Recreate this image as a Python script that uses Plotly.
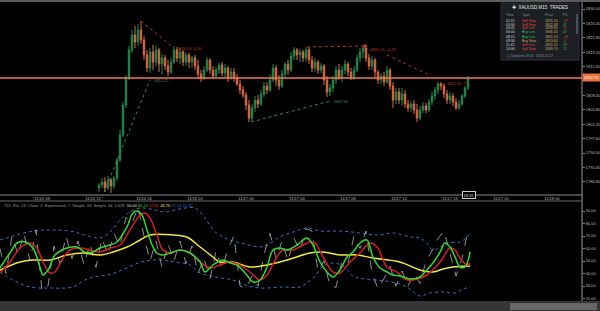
import plotly.graph_objects as go

W, H = 600, 311
def fx(p): return p / W
def fy(p): return 1 - p / H

# ---------------- price data (15-min candles, index = bar number) ----------------
candle_idx = list(range(33, 157))
opens = [1785.25, 1786.00, 1786.75, 1785.25, 1787.25, 1785.75, 1787.75, 1792.25, 1798.50, 1806.00,
         1812.75, 1819.75, 1823.50, 1821.75, 1824.75, 1822.25, 1818.50, 1815.25, 1819.25, 1816.75,
         1819.75, 1816.25, 1817.75, 1815.75, 1814.25, 1816.75, 1819.75, 1817.75, 1819.25, 1816.75,
         1818.50, 1816.75, 1817.75, 1815.75, 1813.75, 1812.75, 1814.75, 1817.25, 1814.75, 1813.25,
         1814.75, 1816.00, 1814.00, 1815.25, 1812.75, 1814.25, 1812.75, 1811.25, 1809.75, 1808.50,
         1806.00, 1802.75, 1805.25, 1807.25, 1806.25, 1808.75, 1810.75, 1809.75, 1812.25, 1815.25,
         1812.25, 1810.75, 1813.75, 1816.25, 1814.75, 1818.25, 1819.75, 1818.50, 1819.25, 1817.75,
         1819.75, 1817.25, 1815.25, 1816.75, 1814.75, 1815.75, 1812.25, 1809.25, 1810.25, 1812.25,
         1814.75, 1812.75, 1814.75, 1816.25, 1814.25, 1812.75, 1814.75, 1817.75, 1819.25, 1820.25,
         1817.75, 1815.75, 1817.25, 1814.25, 1812.25, 1813.25, 1811.75, 1814.75, 1810.75, 1807.25,
         1809.25, 1807.25, 1808.75, 1806.25, 1805.25, 1806.25, 1804.75, 1802.75, 1804.75, 1805.75,
         1804.75, 1806.75, 1808.25, 1809.75, 1811.25, 1810.75, 1808.75, 1807.25, 1808.25, 1806.75,
         1805.25, 1806.25, 1808.25, 1810.25]
highs = [1786.50, 1787.75, 1788.00, 1788.25, 1787.75, 1788.25, 1792.75, 1799.75, 1806.75, 1813.50,
         1820.75, 1824.75, 1825.75, 1826.25, 1827.00, 1823.25, 1819.75, 1820.25, 1821.00, 1820.75,
         1820.25, 1818.75, 1818.50, 1817.25, 1817.75, 1820.75, 1820.50, 1820.25, 1819.75, 1819.25,
         1819.00, 1818.25, 1818.50, 1817.25, 1814.75, 1815.75, 1818.00, 1817.75, 1815.75, 1815.50,
         1816.50, 1816.75, 1816.25, 1815.75, 1815.25, 1815.25, 1813.75, 1812.25, 1810.75, 1809.25,
         1807.25, 1806.25, 1808.25, 1808.50, 1809.75, 1811.75, 1811.75, 1813.75, 1816.25, 1816.00,
         1813.50, 1814.75, 1816.75, 1817.25, 1819.25, 1820.50, 1820.25, 1820.00, 1819.75, 1820.50,
         1820.50, 1818.25, 1817.75, 1817.25, 1816.50, 1816.25, 1813.25, 1811.25, 1813.25, 1815.75,
         1816.25, 1815.75, 1817.25, 1816.75, 1815.25, 1815.75, 1818.50, 1820.25, 1820.75, 1821.00,
         1818.75, 1818.25, 1817.75, 1814.75, 1814.00, 1814.25, 1815.75, 1815.25, 1811.75, 1810.25,
         1810.25, 1810.25, 1809.75, 1807.25, 1807.00, 1807.25, 1806.25, 1805.75, 1806.75, 1806.50,
         1807.50, 1809.25, 1810.50, 1811.75, 1811.75, 1811.50, 1809.75, 1809.25, 1809.00, 1807.75,
         1807.25, 1808.75, 1810.75, 1813.25]
lows = [1784.25, 1785.25, 1784.25, 1784.75, 1784.00, 1785.00, 1787.00, 1791.75, 1798.00, 1805.25,
        1812.25, 1819.00, 1820.25, 1820.75, 1821.25, 1817.25, 1814.25, 1814.00, 1814.75, 1815.75,
        1814.25, 1813.50, 1814.75, 1813.25, 1813.75, 1816.25, 1816.75, 1816.25, 1815.75, 1815.75,
        1815.25, 1815.25, 1814.75, 1812.75, 1811.75, 1812.25, 1814.25, 1813.75, 1812.50, 1812.75,
        1813.75, 1813.25, 1812.75, 1811.75, 1812.25, 1811.75, 1810.75, 1808.75, 1807.75, 1804.75,
        1801.75, 1802.00, 1804.25, 1805.25, 1805.75, 1808.00, 1808.75, 1809.25, 1811.75, 1810.75,
        1809.75, 1810.25, 1812.75, 1813.50, 1814.25, 1817.25, 1817.25, 1816.75, 1816.75, 1816.75,
        1816.25, 1814.25, 1814.25, 1813.75, 1814.00, 1811.00, 1808.00, 1808.25, 1809.25, 1811.25,
        1812.25, 1811.75, 1813.75, 1813.25, 1812.25, 1812.25, 1814.25, 1816.75, 1817.75, 1816.75,
        1814.75, 1814.75, 1812.75, 1811.25, 1811.25, 1810.75, 1811.25, 1809.75, 1805.25, 1806.25,
        1806.25, 1805.75, 1805.25, 1804.25, 1804.25, 1803.75, 1801.75, 1802.25, 1804.00, 1804.00,
        1804.25, 1806.00, 1807.25, 1808.75, 1809.75, 1807.75, 1806.25, 1806.25, 1805.75, 1804.75,
        1804.75, 1805.75, 1807.75, 1809.75]
closes = [1786.00, 1786.75, 1785.25, 1787.25, 1785.75, 1787.75, 1792.25, 1798.50, 1806.00, 1812.75,
          1819.75, 1823.50, 1821.75, 1824.75, 1822.25, 1818.50, 1815.25, 1819.25, 1816.75, 1819.75,
          1816.25, 1817.75, 1815.75, 1814.25, 1816.75, 1819.75, 1817.75, 1819.25, 1816.75, 1818.50,
          1816.75, 1817.75, 1815.75, 1813.75, 1812.75, 1814.75, 1817.25, 1814.75, 1813.25, 1814.75,
          1816.00, 1814.00, 1815.25, 1812.75, 1814.25, 1812.75, 1811.25, 1809.75, 1808.50, 1806.00,
          1802.75, 1805.25, 1807.25, 1806.25, 1808.75, 1810.75, 1809.75, 1812.25, 1815.25, 1812.25,
          1810.75, 1813.75, 1816.25, 1814.75, 1818.25, 1819.75, 1818.50, 1819.25, 1817.75, 1819.75,
          1817.25, 1815.25, 1816.75, 1814.75, 1815.75, 1812.25, 1809.25, 1810.25, 1812.25, 1814.75,
          1812.75, 1814.75, 1816.25, 1814.25, 1812.75, 1814.75, 1817.75, 1819.25, 1820.25, 1817.75,
          1815.75, 1817.25, 1814.25, 1812.25, 1813.25, 1811.75, 1814.75, 1810.75, 1807.25, 1809.25,
          1807.25, 1808.75, 1806.25, 1805.25, 1806.25, 1804.75, 1802.75, 1804.75, 1805.75, 1804.75,
          1806.75, 1808.25, 1809.75, 1811.25, 1810.75, 1808.75, 1807.25, 1808.25, 1806.75, 1805.25,
          1806.25, 1808.25, 1810.25, 1812.75]

# the 1812.00 level sits under the current-price tag, so it is not labelled
price_ticks = [1830.0, 1826.4, 1822.8, 1819.2, 1815.6, 1808.4, 1804.8,
               1801.2, 1797.6, 1794.0, 1790.4, 1786.8]
time_tick_idx = [14, 31, 48, 65, 82, 99, 116, 133, 150, 167, 184]
time_tick_text = ["11/16 08", "11/16 12", "11/16 16", "11/16 20", "11/17 00", "11/17 04",
                  "11/17 08", "11/17 12", "11/17 16", "11/17 20", "11/18 00"]

# zigzag pivots (bar index, price)
zz_red1_x, zz_red1_y = [47, 57.5], [1827.00, 1820.50]
zz_grn1_x, zz_grn1_y = [34.7, 50], [1784.25, 1812.25]
zz_grn2_x, zz_grn2_y = [83.7, 110], [1801.75, 1807.00]
zz_red2_x, zz_red2_y = [102.3, 121.7], [1820.50, 1820.75]
zz_red3_x, zz_red3_y = [129, 143], [1818.50, 1813.50]

# ---------------- TDI indicator data ----------------
tdi_ticks = [90, 80, 70, 60, 50, 40, 30, 20]
gray_x = list(range(0, 157, 2))
gray_v = [60, 40, 70, 55, 72, 50, 75, 26, 30, 62,
          48, 70, 52, 66, 47, 64, 45, 68, 55, 72,
          62, 85, 80, 93, 70, 50, 66, 45, 64, 50,
          66, 48, 62, 40, 52, 36, 58, 44, 60, 70,
          30, 28, 38, 30, 55, 72, 52, 66, 50, 68,
          58, 76, 74, 42, 50, 30, 29, 50, 48, 70,
          60, 74, 40, 28, 36, 46, 30, 42, 30, 40,
          32, 50, 58, 68, 74, 56, 38, 52, 74]
green_x = [0, 3.3, 5.7, 8.3, 11, 13.3, 14.3, 16, 18.3, 20.7, 22.3, 25.7, 28.3, 31, 33.3,
           36.7, 39, 42.3, 44.3, 45.7, 47.3, 49, 50.7, 52.3, 54.3, 57.7, 60, 63.3, 66.7, 68.3,
           71, 74.3, 76.7, 79, 82.3, 84.3, 86.7, 89, 91, 93.3, 95.7, 99, 102.3, 104.3, 106.7,
           109, 111, 113.3, 115.7, 117.7, 120, 122.3, 124.3, 126.7, 129, 131, 133.3, 136.7, 140,
           142.3, 144.3, 146.7, 148.3, 150, 151.7, 153.3, 155, 156.7]
green_v = [44.4, 56.4, 64.4, 65.2, 60.4, 45.2, 38.8, 42.8, 54.8, 58.8, 60.4, 61.2, 57.2, 57.2, 60.4,
           62.8, 65.2, 77.2, 88.4, 90.0, 86.8, 74.8, 62.8, 56.4, 54.8, 57.2, 58.8, 56.4, 49.2, 41.2,
           46.8, 50.8, 48.4, 46.8, 38.8, 33.2, 34.8, 45.2, 58.8, 60.4, 58.8, 62.8, 68.4, 62.8, 49.2,
           41.2, 37.2, 42.8, 53.2, 57.2, 64.4, 66.8, 53.2, 44.4, 41.2, 38.8, 38.0, 35.6, 37.2,
           42.8, 48.4, 57.2, 64.4, 61.2, 53.2, 45.2, 45.2, 57.2]
red_x = [0, 3.3, 6.7, 10, 12.3, 14.3, 16.7, 18.3, 20.7, 23.3, 26.7, 30, 33.3, 36.7, 40,
         43.3, 46.7, 48.3, 50, 52.3, 54.3, 56.7, 60, 63.3, 66.7, 70, 73.3, 76.7, 80, 83.3,
         86.7, 89, 91.7, 94.3, 97.7, 101, 103.3, 105, 107.7, 111, 113.3, 116.7, 120, 123.3, 125.7,
         129, 132.3, 135, 137.7, 142.3, 146.7, 150, 151.7, 153.3, 155.7, 156.7]
red_v = [40.4, 49.2, 60.4, 64.4, 60.4, 49.2, 40.4, 41.2, 50.8, 58.8, 60.4, 58.8, 57.2, 60.4, 62.8,
         74.8, 86.8, 88.4, 84.4, 70.8, 58.8, 56.4, 58.8, 56.4, 49.2, 44.4, 46.8, 49.2, 46.8, 41.2,
         34.8, 38.8, 50.8, 58.8, 58.8, 62.8, 65.2, 64.4, 53.2, 41.2, 40.4, 49.2, 56.4, 64.4, 61.2,
         45.2, 41.2, 35.6, 34.8, 38.8, 49.2, 60.4, 58.8, 52.4, 46.8, 48.4]
yellow_x = [0, 6.7, 11, 16.7, 22.3, 27.7, 33.3, 37.7, 42.3, 46.7, 50, 57.7, 62.3, 66.7, 71,
            73.3, 77.7, 83.3, 89, 95.7, 103.3, 107.7, 113.3, 119, 124.3, 133.3, 140, 144.3,
            147.7, 151, 156.7]
yellow_v = [42.8, 49.2, 50.8, 50.8, 54.8, 56.4, 54.8, 57.2, 61.2, 66.8, 70.8, 70.8, 69.2, 61.2, 53.2,
            49.2, 49.2, 45.2, 46.8, 50.8, 56.4, 57.2, 54.8, 54.8, 52.4, 49.2, 42.8, 41.2,
            43.6, 45.2, 46.0]
upper_x = [0, 4.3, 11, 16.7, 23.3, 28.3, 33.3, 36.7, 40, 43.3, 46.7, 51.7, 55, 60, 65,
           68.3, 71.7, 76.7, 81.7, 86.7, 89, 93.3, 97.7, 102.3, 106.7, 113.3, 120, 125.7, 131,
           136.7, 140, 142.3, 144.3, 146.7, 149, 153.3, 155.7, 156.7]
upper_v = [66.8, 70.0, 74.0, 74.8, 74.0, 70.8, 68.4, 73.2, 82.8, 89.2, 92.4, 90.8, 89.2, 91.6, 92.4,
           84.4, 73.2, 66.8, 63.6, 61.2, 62.8, 69.2, 73.2, 76.4, 74.0, 74.0, 72.4, 70.8, 72.4,
           69.2, 68.4, 64.4, 58.8, 61.2, 64.4, 65.2, 69.2, 73.2]
lower_x = [0, 4.3, 10, 16.7, 24.3, 27.7, 31, 35.7, 40, 44.3, 48.3, 53.3, 58.3, 63.3, 66.7,
           71.7, 77.7, 81.7, 86.7, 94.3, 100, 102.3, 105, 107.7, 111, 114.3, 117.7, 121.7, 128.3,
           133.3, 136.7, 140, 143.3, 147.7, 151.7, 154.3, 156.7]
lower_v = [41.2, 34.8, 29.2, 28.4, 29.2, 34.0, 37.2, 38.8, 42.0, 46.8, 50.0, 50.8, 49.2, 46.8, 40.4,
           37.2, 34.8, 30.8, 28.4, 29.2, 29.2, 32.4, 38.0, 46.0, 48.4, 46.0, 38.0, 35.6, 34.0,
           31.6, 27.6, 22.0, 24.4, 25.2, 24.4, 27.6, 29.2]

# ---------------- styling ----------------
GREEN = "#23874f"
RED = "#dc6a45"
AXC = "#b8b8b8"
FONT = "Liberation Sans"

fig = go.Figure()
fig.add_trace(go.Candlestick(
    x=candle_idx, open=opens, high=highs, low=lows, close=closes,
    increasing=dict(line=dict(color=GREEN, width=1), fillcolor=GREEN),
    decreasing=dict(line=dict(color=RED, width=1), fillcolor=RED),
    whiskerwidth=0, xaxis="x", yaxis="y", hoverinfo="skip"))

for zx, zy, col in [(zz_red1_x, zz_red1_y, "#b83226"), (zz_grn1_x, zz_grn1_y, "#2e8b57"),
                    (zz_grn2_x, zz_grn2_y, "#2e8b57"), (zz_red2_x, zz_red2_y, "#b83226"),
                    (zz_red3_x, zz_red3_y, "#b83226")]:
    fig.add_trace(go.Scatter(x=zx, y=zy, mode="lines", xaxis="x", yaxis="y",
                             line=dict(color=col, width=1, dash="dot"), hoverinfo="skip"))
fig.add_trace(go.Scatter(x=[zz_red2_x[1]], y=[zz_red2_y[1]], mode="markers", xaxis="x", yaxis="y",
                         marker=dict(color="#d03a2a", size=3, symbol="square"), hoverinfo="skip"))

def tdi_line(x, v, color, width, dash="solid", shape="spline"):
    fig.add_trace(go.Scatter(x=x, y=v, mode="lines", xaxis="x2", yaxis="y2",
                             line=dict(color=color, width=width, dash=dash, shape=shape),
                             hoverinfo="skip"))

tdi_line(upper_x, upper_v, "#3b6fc9", 1, "dot")
tdi_line(lower_x, lower_v, "#3b6fc9", 1, "dot")
tdi_line(gray_x, gray_v, "#b4b4b4", 0.8, "dash", "linear")
tdi_line(yellow_x, yellow_v, "#f2e640", 1.5)
tdi_line(red_x, red_v, "#d42020", 1.5)
tdi_line(green_x, green_v, "#34d834", 1.5)

X_END = fx(582)
fig.update_layout(
    width=W, height=H, margin=dict(l=0, r=0, t=0, b=0),
    paper_bgcolor="black", plot_bgcolor="black", showlegend=False, hovermode=False,
    font=dict(family=FONT, size=4, color=AXC),
    xaxis=dict(domain=[0, X_END], range=[0, 194], anchor="y", showgrid=False, zeroline=False,
               tickvals=time_tick_idx, ticktext=time_tick_text, ticks="",
               tickfont=dict(size=4, color=AXC), rangeslider=dict(visible=False), fixedrange=True),
    yaxis=dict(domain=[fy(195), fy(1)], range=[1783.5, 1832.0], side="right", anchor="x",
               showgrid=False, zeroline=False, tickvals=price_ticks, tickformat=".2f",
               ticks="outside", ticklen=2, tickcolor="#888888", tickfont=dict(size=4, color=AXC)),
    xaxis2=dict(domain=[0, X_END], range=[0, 194], anchor="y2", visible=False),
    yaxis2=dict(domain=[fy(300), fy(201)], range=[18.8, 98.0], side="right", anchor="x2",
                showgrid=False, zeroline=False, tickvals=tdi_ticks, tickformat=".2f",
                ticks="outside", ticklen=2, tickcolor="#888888", tickfont=dict(size=4, color=AXC)),
)

shapes = [
    dict(type="rect", xref="paper", yref="paper", x0=0, x1=1, y0=fy(2), y1=1,
         fillcolor="#5c5c5c", line=dict(width=0)),
    dict(type="line", xref="paper", yref="paper", x0=X_END, x1=X_END, y0=fy(301), y1=fy(2),
         line=dict(color="#9a9a9a", width=1)),
    dict(type="line", xref="paper", yref="paper", x0=0, x1=X_END, y0=fy(195), y1=fy(195),
         line=dict(color="#8a8a8a", width=1)),
    dict(type="line", xref="paper", yref="paper", x0=0, x1=X_END, y0=fy(201), y1=fy(201),
         line=dict(color="#6a6a6a", width=1)),
    dict(type="rect", xref="paper", yref="paper", x0=0, x1=1, y0=0, y1=fy(301),
         fillcolor="#363636", line=dict(width=0)),
    dict(type="rect", xref="paper", yref="paper", x0=fx(510), x1=fx(597), y0=fy(310), y1=fy(303),
         fillcolor="#666666", line=dict(width=0)),
    dict(type="line", xref="paper", yref="y", x0=0, x1=X_END, y0=closes[-1], y1=closes[-1],
         line=dict(color="#f07a4c", width=1.5)),
    dict(type="rect", xref="paper", yref="paper", x0=fx(501), x1=fx(579), y0=fy(60), y1=fy(3),
         fillcolor="#1b1e23", line=dict(color="#30343b", width=1)),
    dict(type="rect", xref="paper", yref="paper", x0=fx(576), x1=fx(578), y0=fy(34), y1=fy(14),
         fillcolor="#4a4e55", line=dict(width=0)),
]
fig.update_layout(shapes=shapes)

anns = []
def A(text, x, y, color, size=4, xanchor="left", **kw):
    d = dict(text=text, x=fx(x), y=fy(y), xref="paper", yref="paper", showarrow=False,
             xanchor=xanchor, yanchor="middle", font=dict(color=color, size=size, family=FONT))
    d.update(kw)
    anns.append(d)

def AD(text, xi, price, color, size=4):
    anns.append(dict(text=text, x=xi, y=price, xref="x", yref="y", showarrow=False,
                     xanchor="left", yanchor="middle", font=dict(color=color, size=size, family=FONT)))

# zigzag labels
AD("1820.50 -6.50", zz_red1_x[1] + 0.8, zz_red1_y[1] - 0.3, "#c0392b")
AD("1812.25", zz_grn1_x[1] + 0.7, zz_grn1_y[1] - 0.2, "#2e9b5f")
AD("1807.00", zz_grn2_x[1] + 0.7, zz_grn2_y[1] - 0.2, "#2e9b5f")
AD("1820.75 +0.25", zz_red2_x[1] + 1.0, zz_red2_y[1] - 1.0, "#c0392b")
AD("1811.25 -7.5", 148.3, 1811.25, "#c0392b")

# current price tag and time marker
anns.append(dict(text=f"{closes[-1]:.2f}", x=fx(591), y=closes[-1], xref="paper", yref="y",
                 showarrow=False, xanchor="center", yanchor="middle", bgcolor="#e8713c",
                 borderpad=1, font=dict(color="white", size=4, family=FONT)))
A("18:45", 469, 195, "#dddddd", 4, xanchor="center", bordercolor="#cccccc", borderwidth=1,
  borderpad=0.5, bgcolor="black")

# TDI legend line
tdi_text = ("<span style='color:#9a9a9a'>TDI: Per: 13; Close; 2; Exponential; 7; Simple; 34; Simple; 34; 1.618</span>"
            "  <span style='color:#e0e0e0'>50.00</span> <span style='color:#34d834'>60.23</span>"
            " <span style='color:#e03030'>57.81</span> <span style='color:#f2e640'>46.76</span>"
            " <span style='color:#3b6fc9'>72.14 31.37</span>")
A(tdi_text, 2, 205.5, "#9a9a9a", 4)

# trades panel
A("✚  XAUUSD,M15  TRADES", 540, 8, "#e6e6e6", 4.5, xanchor="center")
for t, x in [("Time", 504), ("Type", 520), ("Price", 543), ("P/L", 561)]:
    A(t, x, 15, "#8a8f98", 3.5)
rows = [("01:15", "Sell Stop", "1815.20", "-17", "#e0463c", "#e0463c"),
        ("03:30", "Sell Stop", "1812.48", "37", "#e0463c", "#3cc060"),
        ("04:45", "Sell Lim.", "1818.90", "-8", "#e0463c", "#e0463c"),
        ("06:00", "Buy Lim.", "1806.35", "47", "#3cc060", "#3cc060"),
        ("08:15", "Buy Lim.", "1805.10", "-12", "#3cc060", "#e0463c"),
        ("09:30", "Buy Stop", "1813.60", "-6", "#c9b35a", "#e0463c"),
        ("11:45", "Sell Lim.", "1820.15", "29", "#e0463c", "#3cc060"),
        ("14:00", "Sell Stop", "1809.70", "15", "#e0463c", "#3cc060")]
row_y = [21, 24.7, 28.5, 32.5, 36.5, 41, 45, 49.5]
for (tm, ty, pr, pl, c1, c2), y in zip(rows, row_y):
    A(tm, 504, y, "#d8d8d8", 3.5)
    A(ty, 520, y, c1, 3.5)
    A(pr, 543, y, "#c8b06a", 3.5)
    A(pl, 561, y, c2, 3.5)
A("ⓘ Updated 18:45  2023.11.17", 504, 56, "#8a8f98", 3.5)

fig.update_layout(annotations=anns)
fig.write_html("out.html")
